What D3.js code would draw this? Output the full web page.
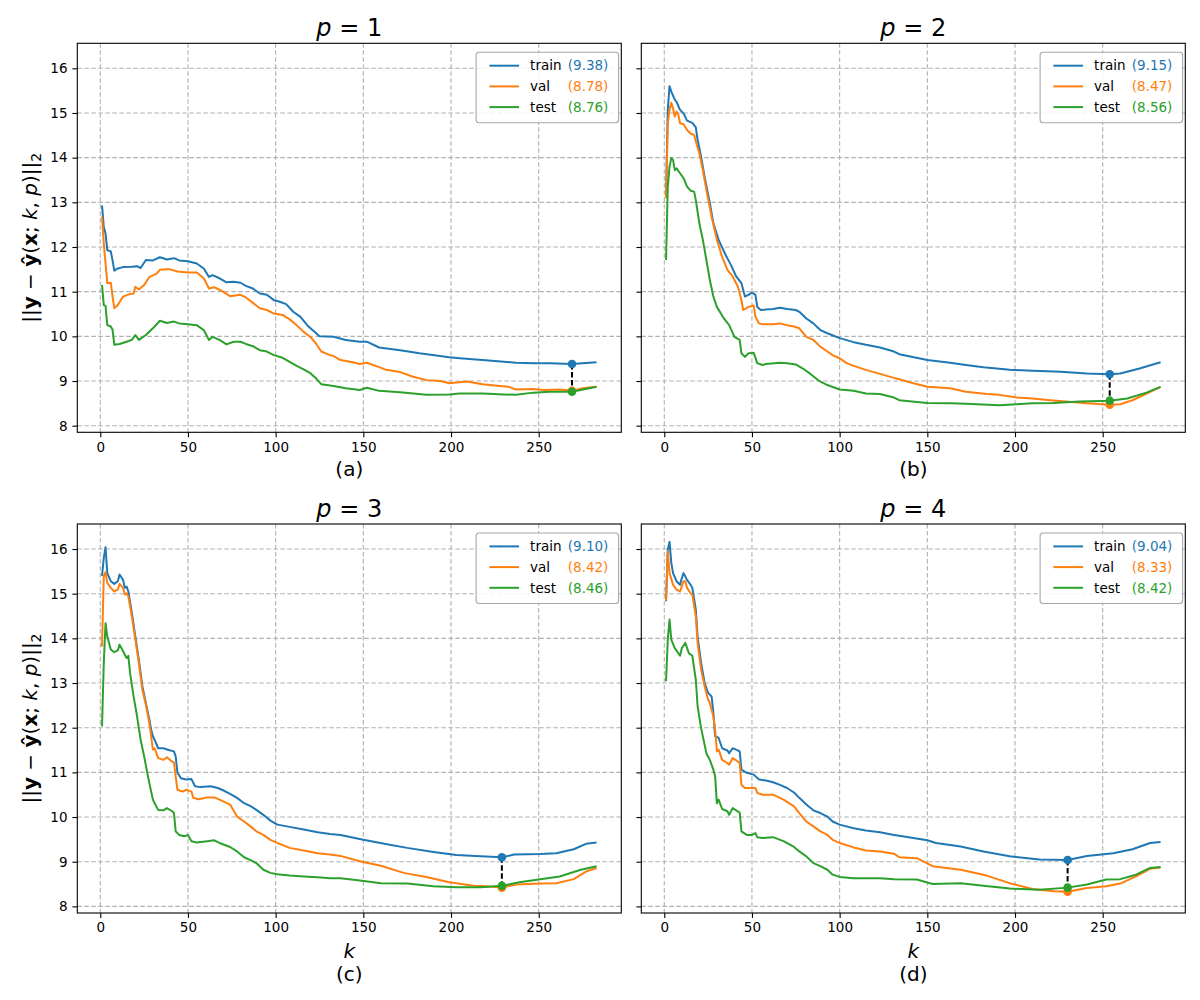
<!DOCTYPE html>
<html>
<head>
<meta charset="utf-8">
<script src="https://cdn.jsdelivr.net/npm/d3@7"></script>
<style>
  body { margin: 0; background: #fff; }
  text { font-family: "DejaVu Sans", sans-serif; }
</style>
</head>
<body>
<svg id="fig" width="1200" height="1000"></svg>
<script>
// tick values shared by all four panels
const xTicks = [0, 50, 100, 150, 200, 250]
const yTicks = [8, 9, 10, 11, 12, 13, 14, 15, 16]

const pValues = [1, 2, 3, 4]
const letters = ["(a)", "(b)", "(c)", "(d)"]
const bestK = [269, 254, 229, 230]
const names = ["train", "val", "test"]
const colors = ["#1f77b4", "#ff7f0e", "#2ca02c"]

// [k, error]
const trainA = [[1,12.93],[2,12.45],[3,12.3],[4,11.93],[6,11.9],[7,11.7],[8,11.47],[10,11.52],[13,11.55],[18,11.56],[21,11.57],[23,11.53],[26,11.71],[30,11.7],[34,11.77],[38,11.72],[42,11.75],[45,11.7],[50,11.68],[55,11.63],[59,11.52],[62,11.33],[64,11.37],[68,11.3],[72,11.21],[76,11.22],[80,11.2],[83,11.13],[87,11.07],[91,10.96],[95,10.93],[99,10.81],[102,10.78],[106,10.72],[110,10.55],[114,10.44],[118,10.25],[121,10.14],[125,10.0],[133,9.99],[140,9.92],[148,9.88],[152,9.88],[159,9.75],[171,9.69],[182,9.62],[199,9.53],[205,9.51],[218,9.47],[237,9.41],[247,9.4],[256,9.4],[269,9.38],[283,9.42]]
const valA = [[1,12.68],[2,12.08],[3,11.63],[4,11.19],[6,11.2],[7,10.89],[8,10.63],[10,10.7],[13,10.89],[17,10.95],[19,10.96],[20,11.11],[22,11.05],[25,11.15],[28,11.33],[32,11.4],[34,11.49],[38,11.5],[40,11.5],[44,11.45],[50,11.43],[55,11.43],[59,11.3],[62,11.07],[65,11.1],[70,11.0],[74,10.9],[80,10.93],[83,10.87],[87,10.75],[91,10.63],[95,10.59],[99,10.51],[104,10.48],[108,10.38],[112,10.25],[116,10.1],[120,9.98],[123,9.84],[126,9.66],[131,9.58],[133,9.56],[137,9.47],[144,9.42],[148,9.38],[152,9.41],[159,9.31],[163,9.25],[171,9.2],[178,9.1],[186,9.02],[194,9.0],[199,8.95],[209,8.99],[218,8.93],[228,8.89],[233,8.87],[237,8.81],[247,8.82],[253,8.8],[262,8.81],[269,8.78],[275,8.84],[283,8.87]]
const testA = [[1,11.15],[2,10.7],[3,10.68],[4,10.25],[6,10.22],[7,10.15],[8,9.81],[11,9.83],[15,9.88],[18,9.92],[20,10.03],[22,9.92],[26,10.03],[30,10.18],[34,10.35],[38,10.3],[42,10.33],[45,10.29],[50,10.27],[55,10.25],[59,10.14],[62,9.92],[64,9.99],[68,9.92],[72,9.82],[76,9.88],[80,9.88],[83,9.83],[87,9.78],[91,9.69],[95,9.66],[99,9.58],[104,9.52],[108,9.43],[112,9.34],[116,9.26],[120,9.17],[123,9.06],[126,8.93],[133,8.89],[140,8.84],[148,8.8],[152,8.85],[159,8.78],[171,8.75],[186,8.69],[199,8.7],[205,8.72],[218,8.72],[237,8.69],[247,8.74],[256,8.76],[269,8.76],[283,8.87]]

const trainB = [[1,13.1],[2,15.07],[3,15.6],[4,15.48],[6,15.3],[7,15.25],[9,15.07],[11,14.99],[13,14.83],[16,14.78],[18,14.68],[19,14.4],[21,14.02],[23,13.57],[26,12.98],[28,12.53],[31,12.16],[35,11.82],[38,11.6],[41,11.34],[44,11.19],[46,10.89],[48,10.93],[50,10.98],[52,10.93],[53,10.66],[55,10.59],[58,10.6],[62,10.61],[66,10.64],[70,10.61],[75,10.59],[77,10.55],[81,10.4],[85,10.29],[89,10.14],[93,10.07],[100,9.96],[108,9.87],[115,9.81],[123,9.75],[131,9.66],[134,9.6],[150,9.47],[163,9.41],[172,9.36],[182,9.31],[197,9.25],[210,9.23],[226,9.21],[241,9.17],[254,9.15],[260,9.17],[271,9.28],[283,9.42]]
const valB = [[1,13.09],[2,14.77],[3,15.07],[4,15.23],[5,15.1],[6,14.92],[7,15.03],[8,14.96],[9,14.77],[11,14.75],[13,14.62],[15,14.54],[17,14.51],[18,14.36],[20,14.1],[22,13.72],[24,13.28],[27,12.68],[30,12.16],[33,11.78],[36,11.49],[39,11.34],[42,11.11],[44,10.81],[45,10.59],[48,10.66],[51,10.69],[52,10.44],[54,10.29],[56,10.27],[62,10.27],[66,10.29],[70,10.25],[74,10.22],[77,10.18],[81,9.99],[85,9.92],[89,9.77],[93,9.66],[96,9.58],[100,9.51],[104,9.4],[108,9.34],[115,9.25],[123,9.16],[131,9.07],[134,9.04],[142,8.95],[150,8.87],[163,8.84],[172,8.76],[184,8.71],[191,8.69],[201,8.63],[210,8.61],[220,8.57],[229,8.54],[241,8.5],[254,8.47],[260,8.48],[267,8.57],[275,8.72],[283,8.87]]
const testB = [[1,11.71],[2,13.35],[3,13.8],[4,13.99],[5,13.95],[6,13.72],[7,13.76],[9,13.65],[11,13.54],[13,13.35],[15,13.26],[17,13.24],[18,13.05],[20,12.53],[22,12.16],[24,11.71],[26,11.26],[28,10.89],[30,10.66],[34,10.4],[37,10.25],[40,9.99],[43,9.92],[44,9.62],[46,9.54],[48,9.62],[51,9.63],[53,9.4],[56,9.36],[58,9.38],[66,9.41],[70,9.4],[75,9.37],[79,9.28],[83,9.17],[88,9.01],[93,8.91],[100,8.81],[108,8.78],[115,8.72],[123,8.71],[131,8.63],[134,8.57],[150,8.51],[163,8.5],[172,8.49],[191,8.46],[201,8.48],[210,8.5],[222,8.51],[237,8.54],[254,8.56],[264,8.61],[275,8.74],[283,8.87]]

const trainC = [[1,15.4],[2,15.8],[3,16.04],[4,15.46],[6,15.28],[8,15.22],[10,15.28],[11,15.43],[13,15.31],[14,15.13],[15,15.16],[16,15.05],[18,14.57],[20,14.04],[22,13.52],[24,12.93],[26,12.55],[28,12.18],[29,11.96],[30,11.81],[31,11.73],[33,11.54],[36,11.54],[39,11.5],[42,11.47],[43,11.36],[44,10.99],[46,10.87],[49,10.84],[52,10.85],[54,10.69],[57,10.67],[63,10.69],[67,10.65],[70,10.6],[74,10.52],[78,10.43],[82,10.31],[86,10.24],[89,10.16],[93,10.05],[97,9.92],[101,9.83],[108,9.78],[116,9.72],[124,9.66],[131,9.62],[137,9.6],[150,9.49],[165,9.38],[175,9.31],[190,9.22],[203,9.15],[217,9.12],[229,9.1],[236,9.16],[251,9.17],[260,9.19],[270,9.28],[277,9.4],[283,9.43]]
const valC = [[1,13.82],[2,15.39],[3,15.48],[4,15.24],[6,15.13],[8,15.05],[10,15.09],[11,15.22],[13,15.13],[14,14.98],[15,15.01],[16,14.94],[18,14.49],[20,13.97],[22,13.45],[24,12.85],[26,12.51],[28,12.1],[29,11.81],[30,11.51],[31,11.54],[33,11.32],[36,11.28],[38,11.34],[40,11.27],[42,11.22],[43,10.91],[44,10.61],[47,10.57],[49,10.61],[52,10.57],[53,10.43],[56,10.4],[61,10.44],[65,10.44],[68,10.39],[74,10.28],[78,10.01],[82,9.9],[86,9.78],[89,9.68],[93,9.6],[97,9.49],[101,9.42],[108,9.31],[116,9.25],[124,9.19],[131,9.16],[137,9.13],[148,9.01],[160,8.91],[173,8.75],[186,8.66],[199,8.54],[213,8.46],[220,8.45],[229,8.42],[237,8.49],[251,8.51],[260,8.52],[270,8.61],[277,8.78],[283,8.86]]
const testC = [[1,12.03],[2,13.45],[3,14.34],[4,14.04],[6,13.75],[8,13.69],[10,13.73],[11,13.86],[13,13.71],[15,13.56],[16,13.61],[17,13.22],[19,12.7],[21,12.25],[23,11.73],[25,11.36],[27,10.95],[28,10.76],[30,10.39],[31,10.31],[33,10.16],[36,10.15],[38,10.2],[41,10.13],[42,10.09],[43,9.68],[45,9.6],[48,9.57],[50,9.6],[52,9.46],[55,9.43],[61,9.46],[65,9.48],[68,9.42],[74,9.33],[78,9.23],[82,9.1],[86,9.03],[89,8.97],[93,8.82],[97,8.75],[101,8.72],[108,8.69],[116,8.67],[124,8.65],[131,8.63],[137,8.63],[148,8.58],[160,8.52],[175,8.51],[190,8.45],[203,8.43],[217,8.43],[229,8.46],[239,8.54],[251,8.61],[262,8.67],[274,8.82],[283,8.9]]

const trainD = [[1,14.83],[2,15.99],[3,16.16],[4,15.69],[5,15.46],[7,15.28],[9,15.2],[10,15.35],[11,15.46],[13,15.31],[15,15.2],[16,15.13],[18,14.64],[19,14.04],[21,13.45],[23,13.0],[25,12.78],[27,12.7],[28,12.33],[29,11.81],[31,11.77],[33,11.54],[36,11.49],[37,11.43],[39,11.54],[41,11.51],[43,11.47],[44,11.06],[47,10.99],[51,10.95],[54,10.84],[58,10.82],[62,10.78],[66,10.72],[70,10.65],[74,10.55],[77,10.43],[81,10.28],[85,10.15],[89,10.09],[93,10.01],[96,9.9],[100,9.83],[108,9.75],[115,9.7],[123,9.66],[131,9.6],[134,9.58],[150,9.48],[155,9.42],[169,9.34],[182,9.23],[197,9.12],[214,9.05],[230,9.04],[241,9.13],[256,9.19],[267,9.28],[277,9.42],[283,9.44]]
const valD = [[1,14.85],[2,15.95],[3,15.46],[5,15.2],[7,15.09],[9,15.05],[11,15.28],[12,15.28],[13,15.13],[15,15.01],[16,14.98],[18,14.49],[19,13.9],[21,13.3],[23,12.93],[25,12.63],[26,12.55],[28,12.25],[29,11.96],[30,11.47],[31,11.51],[33,11.28],[36,11.21],[37,11.17],[39,11.32],[41,11.27],[43,11.21],[44,10.72],[46,10.65],[52,10.65],[53,10.54],[56,10.5],[62,10.5],[68,10.39],[74,10.24],[77,10.09],[81,9.9],[85,9.79],[89,9.68],[93,9.6],[96,9.49],[100,9.42],[108,9.32],[115,9.25],[123,9.23],[131,9.18],[134,9.1],[144,9.08],[153,8.9],[169,8.82],[182,8.71],[197,8.52],[210,8.39],[222,8.34],[230,8.33],[241,8.41],[252,8.45],[260,8.51],[269,8.67],[277,8.84],[283,8.87]]
const testD = [[1,13.04],[2,13.97],[3,14.42],[4,13.97],[6,13.78],[9,13.61],[10,13.78],[12,13.9],[14,13.67],[16,13.61],[18,13.07],[19,12.48],[21,11.99],[23,11.62],[24,11.43],[26,11.28],[28,11.06],[29,10.91],[30,10.31],[31,10.39],[33,10.18],[36,10.13],[37,10.05],[39,10.2],[41,10.15],[43,10.1],[44,9.68],[47,9.6],[50,9.6],[52,9.64],[53,9.55],[56,9.53],[62,9.55],[68,9.46],[74,9.33],[77,9.23],[81,9.12],[85,8.97],[89,8.9],[93,8.82],[96,8.71],[100,8.66],[108,8.63],[115,8.63],[123,8.63],[131,8.61],[144,8.6],[153,8.5],[169,8.52],[182,8.46],[197,8.4],[214,8.37],[230,8.42],[241,8.49],[252,8.6],[260,8.61],[269,8.71],[277,8.86],[283,8.88]]

const panelSeries = [
  [trainA, valA, testA],
  [trainB, valB, testB],
  [trainC, valC, testC],
  [trainD, valD, testD]
]

const svg = d3.select("#fig")
svg.append("rect").attr("width", 1200).attr("height", 1000).attr("fill", "#fff")

const colLeft = [77.3, 641.3]
const rowTop = [43.3, 524]
const width = 544
const height = 389

const x = d3.scaleLinear().domain([-13.1, 297.1]).range([0, width])
const y = d3.scaleLinear().domain([7.852, 16.56]).range([height, 0])

const line = d3.line()
  .x(d => x(d[0]))
  .y(d => y(d[1]))

const valueAt = (series, k) => series.find(d => d[0] === k)[1]

pValues.forEach((p, i) => {
  const col = i % 2, row = Math.floor(i / 2)
  const g = svg.append("g")
    .attr("transform", "translate(" + colLeft[col] + "," + rowTop[row] + ")")

  // dashed grid
  g.append("g").selectAll("line").data(xTicks).enter().append("line")
    .attr("x1", d => x(d)).attr("x2", d => x(d))
    .attr("y1", 0).attr("y2", height)
    .attr("stroke", "#b0b0b0").attr("stroke-width", 1.1).attr("stroke-dasharray", "4.5,2.5")
  g.append("g").selectAll("line").data(yTicks).enter().append("line")
    .attr("y1", d => y(d)).attr("y2", d => y(d))
    .attr("x1", 0).attr("x2", width)
    .attr("stroke", "#b0b0b0").attr("stroke-width", 1.1).attr("stroke-dasharray", "4.5,2.5")

  const xAxis = d3.axisBottom(x).tickValues(xTicks).tickSize(4.9).tickPadding(4.9).tickSizeOuter(0)
  const yAxis = d3.axisLeft(y).tickValues(yTicks).tickSize(4.9).tickPadding(4.9).tickSizeOuter(0)
  if (col === 1) yAxis.tickFormat("")

  const gx = g.append("g").attr("transform", "translate(0," + height + ")").call(xAxis)
  const gy = g.append("g").call(yAxis)
  ;[gx, gy].forEach(a => {
    a.select(".domain").remove()
    a.selectAll("line").attr("stroke", "#000").attr("stroke-width", 1.1)
    a.selectAll("text").attr("fill", "#000").style("font-size", "13.5px").style("font-family", "DejaVu Sans")
  })

  // curves
  const series = panelSeries[i]
  series.forEach((s, j) => {
    g.append("path")
      .datum(s)
      .attr("fill", "none")
      .attr("stroke", colors[j])
      .attr("stroke-width", 2)
      .attr("stroke-linejoin", "round")
      .attr("d", line)
  })

  // best k: dashed link train -> test, then the dots
  const bk = bestK[i]
  const best = series.map(s => valueAt(s, bk))
  g.append("line")
    .attr("x1", x(bk)).attr("x2", x(bk))
    .attr("y1", y(best[0])).attr("y2", y(best[2]))
    .attr("stroke", "#000").attr("stroke-width", 2).attr("stroke-dasharray", "5.5,2.5")
  best.forEach((v, j) => {
    g.append("circle")
      .attr("cx", x(bk)).attr("cy", y(v)).attr("r", 4.3)
      .attr("fill", colors[j])
  })

  // frame
  g.append("rect").attr("width", width).attr("height", height)
    .attr("fill", "none").attr("stroke", "#000").attr("stroke-width", 1.1)

  // legend
  const lg = g.append("g").attr("transform", "translate(" + (width - 2.7 - 142.5) + ",9)")
  lg.append("rect").attr("width", 142.5).attr("height", 70.5).attr("rx", 3)
    .attr("fill", "#fff").attr("fill-opacity", 0.85).attr("stroke", "#a8a8a8").attr("stroke-width", 1.1)
  names.forEach((n, j) => {
    const ry = 13.4 + j * 20.7
    lg.append("line").attr("x1", 13.3).attr("x2", 43).attr("y1", ry).attr("y2", ry)
      .attr("stroke", colors[j]).attr("stroke-width", 2)
    lg.append("text").attr("x", 54).attr("y", ry + 4.8)
      .style("font-size", "13.5px").attr("fill", "#000").text(n)
    lg.append("text").attr("x", 91.7).attr("y", ry + 4.8)
      .style("font-size", "13.5px").attr("fill", colors[j]).text("(" + best[j].toFixed(2) + ")")
  })

  // title p = i
  const t = g.append("text").attr("x", width / 2).attr("y", -7.5)
    .attr("text-anchor", "middle").style("font-size", "24px")
  t.append("tspan").style("font-style", "italic").text("p")
  t.append("tspan").text(" = " + p)

  // x label(s)
  if (row === 1) {
    g.append("text").attr("x", width / 2).attr("y", height + 45)
      .attr("text-anchor", "middle").style("font-size", "20px").style("font-style", "italic").text("k")
    g.append("text").attr("x", width / 2).attr("y", height + 68)
      .attr("text-anchor", "middle").style("font-size", "20px").text(letters[i])
  } else {
    g.append("text").attr("x", width / 2).attr("y", height + 44)
      .attr("text-anchor", "middle").style("font-size", "20px").text(letters[i])
  }

  // y label on the left column
  if (col === 0) {
    const yl = svg.append("text")
      .attr("transform", "translate(37," + (rowTop[row] + height / 2) + ") rotate(-90)")
      .attr("text-anchor", "middle").style("font-size", "20px")
    yl.append("tspan").text("||")
    yl.append("tspan").style("font-weight", "bold").text("y")
    yl.append("tspan").text(" \u2212 ")
    yl.append("tspan").style("font-weight", "bold").text("\u0177")
    yl.append("tspan").text("(")
    yl.append("tspan").style("font-weight", "bold").text("x")
    yl.append("tspan").text("; ")
    yl.append("tspan").style("font-style", "italic").text("k")
    yl.append("tspan").text(", ")
    yl.append("tspan").style("font-style", "italic").text("p")
    yl.append("tspan").text(")||")
    yl.append("tspan").attr("dy", 4).style("font-size", "14px").text("2")
  }
})
</script>
</body>
</html>
